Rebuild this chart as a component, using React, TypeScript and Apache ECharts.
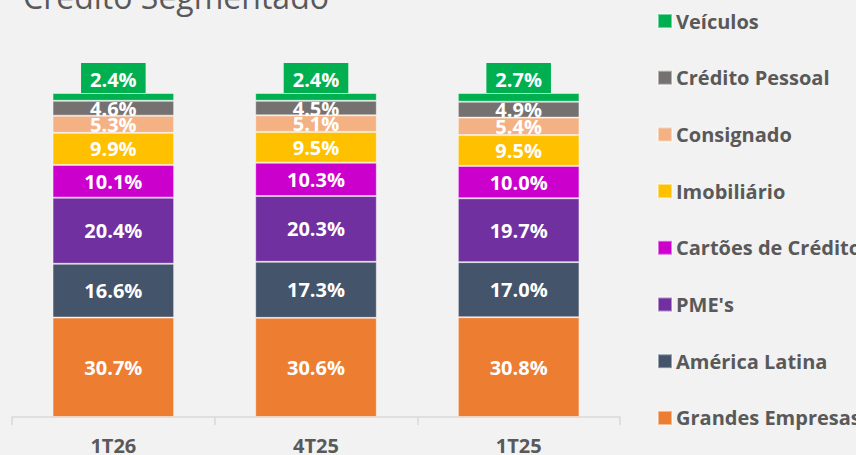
import React, { useEffect, useRef } from "react";
import * as echarts from "echarts";

const categories = ["1T26", "4T25", "1T25"];
const seriesNames = [
  "Grandes Empresas",
  "América Latina",
  "PME's",
  "Cartões de Crédito",
  "Imobiliário",
  "Consignado",
  "Crédito Pessoal",
  "Veículos",
];
const grandesEmpresas = [30.7, 30.6, 30.8];
const americaLatina = [16.6, 17.3, 17.0];
const pmes = [20.4, 20.3, 19.7];
const cartoes = [10.1, 10.3, 10.0];
const imobiliario = [9.9, 9.5, 9.5];
const consignado = [5.3, 5.1, 5.4];
const creditoPessoal = [4.6, 4.5, 4.9];
const veiculos = [2.4, 2.4, 2.7];
const seriesValues = [
  grandesEmpresas,
  americaLatina,
  pmes,
  cartoes,
  imobiliario,
  consignado,
  creditoPessoal,
  veiculos,
];
const colors = [
  "#ed7d31",
  "#44546a",
  "#7030a0",
  "#cc00cc",
  "#ffc000",
  "#f4b183",
  "#767171",
  "#00b050",
];

const FONT = "'Open Sans', sans-serif";

export default function App() {
  const ref = useRef<HTMLDivElement>(null);
  useEffect(() => {
    document.body.style.margin = "0";
    document.body.style.background = "#f2f2f2";
    if (!ref.current) return;
    const chart = echarts.init(ref.current, undefined, { renderer: "svg" });
    const series = seriesNames.map((name, i) => {
      const isTop = i === seriesNames.length - 1;
      return {
        name,
        type: "bar",
        stack: "total",
        barCategoryGap: "40%",
        data: seriesValues[i],
        itemStyle: {
          color: colors[i],
          borderColor: "rgba(255,255,255,0.45)",
          borderWidth: 1,
        },
        label: isTop
          ? {
              show: true,
              position: "top",
              distance: 0,
              color: "#ffffff",
              fontFamily: FONT,
              fontWeight: "bold",
              fontSize: 20,
              lineHeight: 22,
              backgroundColor: colors[i],
              padding: [5, 9, 3, 9],
              formatter: (p: any) => p.value.toFixed(1) + "%",
            }
          : {
              show: true,
              position: "inside",
              color: "#ffffff",
              fontFamily: FONT,
              fontWeight: "bold",
              fontSize: 20,
              formatter: (p: any) => p.value.toFixed(1) + "%",
            },
      };
    });
    chart.setOption({
      animation: false,
      backgroundColor: "#f2f2f2",
      graphic: [
        {
          type: "text",
          x: 23,
          y: -4,
          style: {
            text: "Crédito Segmentado",
            font: `32px ${FONT}`,
            fill: "#595959",
            verticalAlign: "middle",
          },
        },
      ],
      legend: {
        orient: "vertical",
        left: 652,
        top: 6,
        itemWidth: 14,
        itemHeight: 14,
        itemGap: 36.7,
        icon: "rect",
        data: [...seriesNames].reverse(),
        textStyle: {
          color: "#595959",
          fontFamily: FONT,
          fontWeight: "bold",
          fontSize: 20,
          lineHeight: 20,
          padding: [0, 0, 0, -1],
        },
      },
      grid: { left: 12, right: 236, top: 93, bottom: 35 },
      xAxis: {
        type: "category",
        data: categories,
        axisLine: { lineStyle: { color: "#d9d9d9", width: 1.5 } },
        axisTick: { show: true, length: 8, lineStyle: { color: "#d9d9d9", width: 1.5 } },
        axisLabel: {
          color: "#595959",
          fontFamily: FONT,
          fontWeight: "bold",
          fontSize: 20,
          margin: 18,
        },
      },
      yAxis: { type: "value", min: 0, max: 100, show: false },
      series,
    });
    return () => chart.dispose();
  }, []);
  return <div ref={ref} style={{ width: 856, height: 455 }} />;
}
